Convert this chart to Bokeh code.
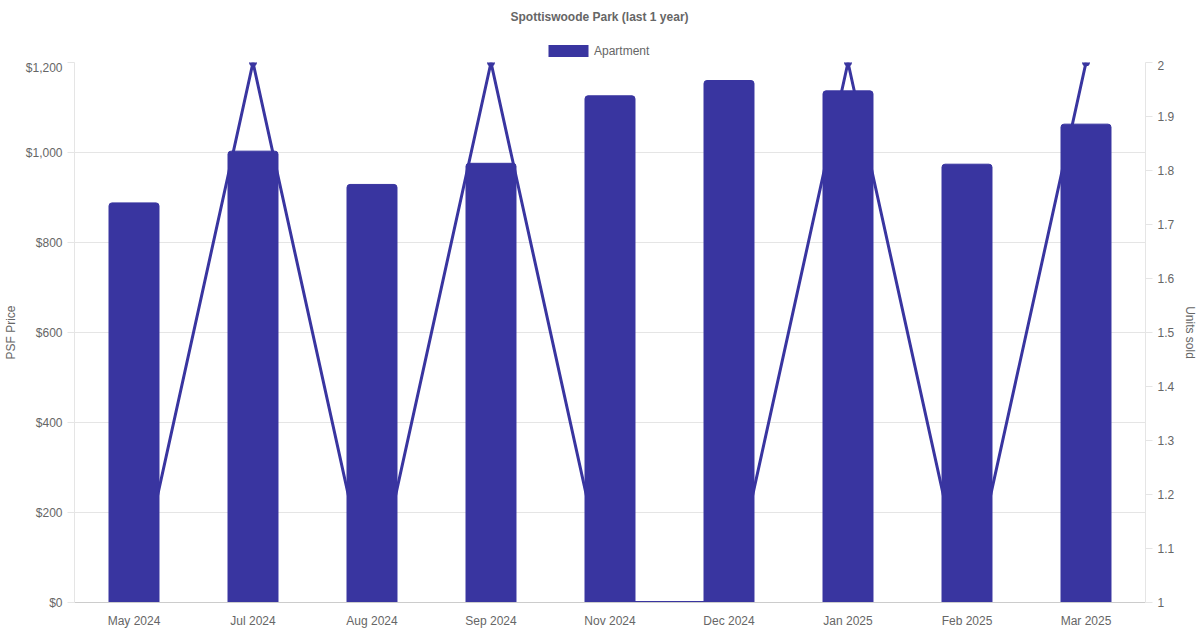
from bokeh.plotting import figure
from bokeh.layouts import column
from bokeh.models import (FactorRange, Range1d, LinearAxis, FixedTicker, NumeralTickFormatter,
                          CustomJSTickFormatter, Legend, LegendItem, ColumnDataSource, Spacer)
from bokeh.embed import file_html
from bokeh.resources import INLINE

months = ["May 2024", "Jul 2024", "Aug 2024", "Sep 2024", "Nov 2024",
          "Dec 2024", "Jan 2025", "Feb 2025", "Mar 2025"]
psf_price = [888, 1003, 929, 976, 1126, 1160, 1137, 974, 1063]
units_sold = [1, 2, 1, 2, 1, 1, 2, 1, 2]
left_ticks = [0, 200, 400, 600, 800, 1000, 1200]
right_ticks = [1.0, 1.1, 1.2, 1.3, 1.4, 1.5, 1.6, 1.7, 1.8, 1.9, 2.0]

COLOR = "#3935a0"
TEXT = "#666666"
GRID = "#e5e5e5"
FONT = "Liberation Sans"

W = 1200
TOP_PAD = 5
HEAD_H = 55
MAIN_H = 630 - TOP_PAD - HEAD_H

src = ColumnDataSource(dict(m=months, psf=psf_price, units=units_sold))

# ---- header: title + legend ----
head = figure(width=W, height=HEAD_H, x_range=FactorRange(*months, range_padding=0),
              y_range=Range1d(0, 1), output_backend="svg", toolbar_location=None,
              x_axis_location=None, y_axis_location=None,
              min_border_left=0, min_border_right=0, min_border_top=0, min_border_bottom=0)
head.grid.visible = False
head.outline_line_color = None
head.title.text = "Spottiswoode Park (last 1 year)"
head.title.align = "left"
head.title.offset = 436
head.title.text_font = FONT
head.title.text_font_size = "12px"
head.title.text_font_style = "bold"
head.title.text_color = TEXT
head.title.standoff = 4

# legend swatch renderer: same series, bars not drawn in the header (undefined top)
swatch = head.vbar(x="m", bottom=0, top=float("nan"), source=src, width=0.42,
                   fill_color=COLOR, line_color=None)
legend = Legend(items=[LegendItem(label="Apartment", renderers=[swatch])],
                orientation="horizontal", location=(469, 2),
                glyph_width=50, glyph_height=15, label_text_font=FONT,
                label_text_font_size="12px", label_text_color=TEXT,
                label_height=12, padding=0, margin=0, border_line_color=None,
                background_fill_alpha=0, label_standoff=1)
head.add_layout(legend, "center")

# ---- main chart ----
p = figure(width=W, height=MAIN_H, x_range=FactorRange(*months, range_padding=0),
           y_range=Range1d(0, 1200), output_backend="svg", toolbar_location=None,
           min_border_left=0, min_border_right=0, min_border_top=2, min_border_bottom=0)
p.outline_line_color = None
p.background_fill_color = "white"
p.border_fill_color = "white"

p.extra_y_ranges = {"units": Range1d(1, 2)}

line = p.line("m", "units", source=src, y_range_name="units", line_color=COLOR, line_width=3)
pts = p.scatter("m", "units", source=src, y_range_name="units", size=7,
                fill_color=COLOR, line_color=COLOR)
bars = p.vbar(x="m", top="psf", source=src, width=0.42, fill_color=COLOR, line_color=COLOR,
              border_radius=(3, 3, 0, 0))

ya = p.yaxis[0]
ya.ticker = FixedTicker(ticks=left_ticks)
ya.formatter = NumeralTickFormatter(format="$0,0")
ya.axis_label = "PSF Price"

ra = LinearAxis(y_range_name="units", ticker=FixedTicker(ticks=right_ticks),
                formatter=CustomJSTickFormatter(code="return String(Math.round(tick*10)/10);"),
                axis_label="Units sold")
p.add_layout(ra, "right")

for ax in [ya, ra]:
    ax.axis_line_color = GRID
    ax.major_tick_line_color = GRID
    ax.major_tick_out = 7
    ax.major_tick_in = 0
    ax.minor_tick_line_color = None
    ax.major_label_text_font = FONT
    ax.major_label_text_font_size = "12px"
    ax.major_label_text_color = TEXT
    ax.major_label_standoff = 5
    ax.axis_label_text_font = FONT
    ax.axis_label_text_font_size = "12px"
    ax.axis_label_text_font_style = "normal"
    ax.axis_label_text_color = TEXT
ya.axis_label_standoff = 5
ra.axis_label_standoff = 6

xa = p.xaxis[0]
xa.axis_line_color = "#cccccc"
xa.major_tick_line_color = None
xa.minor_tick_line_color = None
xa.major_label_text_font = FONT
xa.major_label_text_font_size = "12px"
xa.major_label_text_color = TEXT
xa.major_label_standoff = 5

p.xgrid.grid_line_color = None
p.ygrid.grid_line_color = GRID
p.ygrid.ticker = FixedTicker(ticks=left_ticks)

layout = column(Spacer(width=W, height=TOP_PAD), head, p, spacing=0)
open("out.html", "w").write(file_html(layout, INLINE))
